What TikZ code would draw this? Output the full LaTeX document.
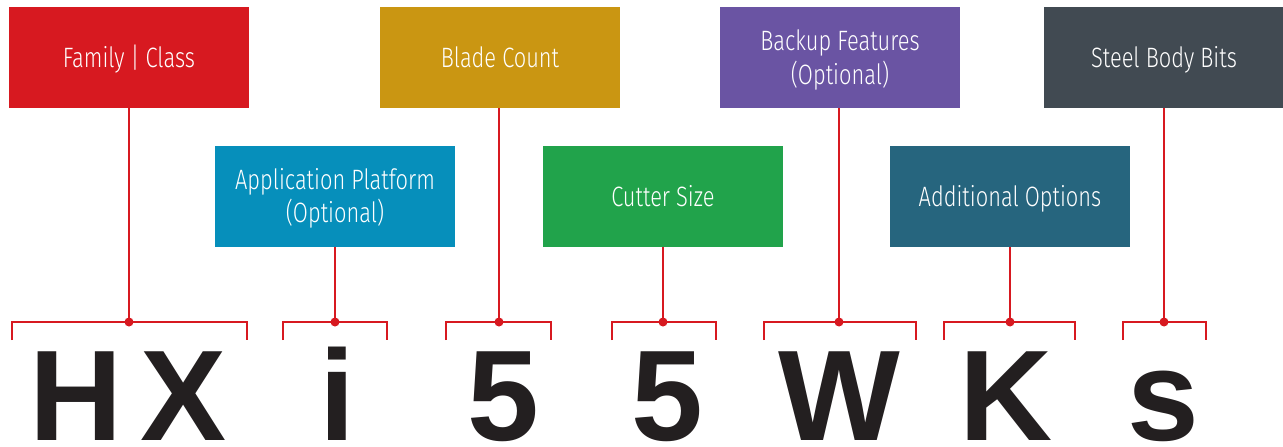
\documentclass[tikz,border=0pt]{standalone}
\usepackage{fontspec}
\setmainfont{Liberation Sans}
\newfontfamily\boxfont{Fira Sans}[UprightFont=* Light, FakeStretch=0.78]
\definecolor{cred}{HTML}{D71920}
\definecolor{cblue}{HTML}{068FBB}
\definecolor{cgold}{HTML}{CA9612}
\definecolor{cgreen}{HTML}{21A34B}
\definecolor{cpurple}{HTML}{6A54A3}
\definecolor{cteal}{HTML}{26657E}
\definecolor{cslate}{HTML}{414A52}
\definecolor{cink}{HTML}{231F20}
\tikzset{
  codebox/.style={draw=none, inner sep=0pt, minimum width=240pt, minimum height=101pt,
    text=white, align=center, font=\boxfont\fontsize{28}{33.7}\selectfont,
    text height=20pt, text depth=0pt},
  twoline/.style={text height=53.7pt, text depth=0pt},
  link/.style={draw=cred, line width=2.5pt},
  brk/.style={draw=cred, line width=2.5pt},
  dotn/.style={circle, fill=cred, inner sep=0pt, minimum size=9pt},
  letter/.style={anchor=base, inner sep=0pt, text=cink, font=\bfseries\fontsize{129}{129}\selectfont}
}
\begin{document}
\begin{tikzpicture}[x=1pt,y=-1pt]
\useasboundingbox (0,0) rectangle (1283,447);
% boxes
\node[codebox, fill=cred]    (fam)   at (129,57.5)  {Family | Class};
\node[codebox, twoline, fill=cblue] (app) at (335,196) {Application Platform\\(Optional)};
\node[codebox, fill=cgold]   (blade) at (500,57.5)  {Blade Count};
\node[codebox, fill=cgreen]  (cut)   at (663,196)   {Cutter Size};
\node[codebox, twoline, fill=cpurple] (back) at (840,57.5) {Backup Features\\(Optional)};
\node[codebox, fill=cteal]   (add)   at (1010,196)  {Additional Options};
\node[codebox, fill=cslate]  (steel) at (1164,57.5) {Steel Body Bits};
% dots
\node[dotn] (d1) at (129,322) {};
\node[dotn] (d2) at (335,322) {};
\node[dotn] (d3) at (499,322) {};
\node[dotn] (d4) at (663,322) {};
\node[dotn] (d5) at (839,322) {};
\node[dotn] (d6) at (1010,322) {};
\node[dotn] (d7) at (1164,322) {};
% bracket ends
\coordinate (l1) at (12,340);   \coordinate (r1) at (247,340);
\coordinate (l2) at (283,340);  \coordinate (r2) at (387,340);
\coordinate (l3) at (446,340);  \coordinate (r3) at (551,340);
\coordinate (l4) at (612,340);  \coordinate (r4) at (716,340);
\coordinate (l5) at (764,340);  \coordinate (r5) at (916,340);
\coordinate (l6) at (944,340);  \coordinate (r6) at (1075,340);
\coordinate (l7) at (1123,340); \coordinate (r7) at (1206,340);
% connectors
\foreach \b/\d in {fam/d1, app/d2, blade/d3, cut/d4, back/d5, add/d6, steel/d7}{
  \draw[link] (\d |- \b.south) -- (\d.center);
}
\foreach \i in {1,...,7}{
  \draw[brk] (l\i) |- (d\i.center) -| (r\i);
}
% letters
\node[letter] (H)  at (76,440)   {H};
\node[letter] (X)  at (183.5,440) {X};
\node[letter] (i)  at (337.5,440) {i};
\node[letter] (f1) at (503,440)  {5};
\node[letter] (f2) at (667,440)  {5};
\node[letter] (W)  at (839,440)  {W};
\node[letter] (K)  at (1006,440) {K};
\node[letter] (s)  at (1163.5,440) {s};
\end{tikzpicture}
\end{document}
